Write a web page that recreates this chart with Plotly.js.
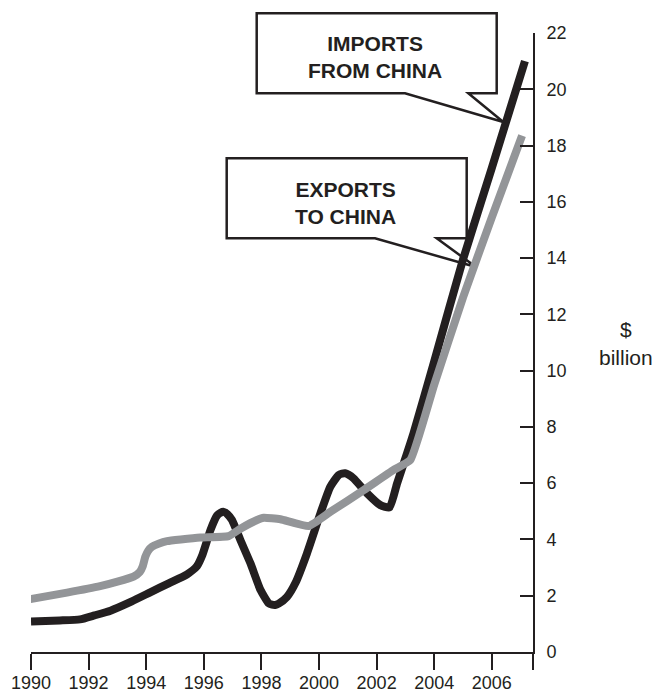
<!DOCTYPE html>
<html>
<head>
<meta charset="utf-8">
<script src="https://cdn.plot.ly/plotly-3.0.1.min.js"></script>
<style>html,body{margin:0;padding:0;background:#fff;}#chart{width:655px;height:692px;}</style>
</head>
<body>
<div id="chart"></div>
<script>
// Imports from China ($ billion)
var importYears = [1990.0,1991.0,1991.7,1992.2,1992.76,1993.5,1994.14,1994.8,1995.42,1995.76,1995.95,1996.23,1996.46,1996.58,1996.69,1996.82,1996.98,1997.27,1997.62,1997.97,1998.25,1998.37,1998.48,1998.6,1998.89,1999.18,1999.58,2000.05,2000.39,2000.68,2000.8,2000.91,2001.03,2001.2,2001.67,2002.13,2002.45,2002.71,2002.94,2003.28,2004.0,2005.0,2006.0,2007.15];
var importValues = [1.08,1.12,1.16,1.3,1.47,1.8,2.12,2.45,2.76,3.05,3.45,4.33,4.85,4.95,4.98,4.9,4.69,3.98,3.15,2.2,1.73,1.68,1.67,1.72,1.96,2.45,3.5,4.93,5.87,6.29,6.34,6.35,6.3,6.17,5.64,5.22,5.14,5.99,6.7,7.77,10.33,13.95,17.2,21.0];
// Exports to China ($ billion)
var exportYears = [1989.98,1991.25,1992.4,1993.0,1993.56,1993.78,1993.88,1993.97,1994.07,1994.2,1994.45,1994.72,1995.2,1995.88,1996.86,1997.3,1997.85,1998.08,1998.66,1999.64,2000.39,2001.55,2002.59,2003.17,2004.0,2005.0,2006.0,2007.05];
var exportValues = [1.88,2.11,2.34,2.5,2.68,2.85,3.05,3.39,3.6,3.74,3.86,3.94,4.0,4.07,4.12,4.4,4.69,4.77,4.72,4.48,4.98,5.75,6.47,6.82,9.5,12.6,15.45,18.35];
// Axis ticks
var xTickVals = [1990,1992,1994,1996,1998,2000,2002,2004,2006,2007.43];
var xTickText = ['1990','1992','1994','1996','1998','2000','2002','2004','2006',''];
var yTickVals = [0,2,4,6,8,10,12,14,16,18,20,22];
var labels = {imports: 'IMPORTS<br>FROM CHINA', exports: 'EXPORTS<br>TO CHINA', unitTop: '$', unitBottom: 'billion'};

var ink = '#231f20';
var grey = '#939598';
var font = 'Arial, "Liberation Sans", Helvetica, sans-serif';

var traces = [
  {x: importYears, y: importValues, type: 'scatter', mode: 'lines', line: {color: ink, width: 8, shape: 'spline', smoothing: 0.5}, hoverinfo: 'skip'},
  {x: exportYears, y: exportValues, type: 'scatter', mode: 'lines', line: {color: grey, width: 8, shape: 'spline', smoothing: 0.4}, hoverinfo: 'skip'}
];

// callout boxes in paper coordinates
function px(v){ return (v - 31) / 502; }
function py(v){ return (652 - v) / 619; }
function callout(l, t, r, b, nr, tipx, tipy, nl){
  return 'M' + px(l) + ',' + py(t) + ' L' + px(r) + ',' + py(t) + ' L' + px(r) + ',' + py(b) +
    ' L' + px(nr) + ',' + py(b) + ' L' + px(tipx) + ',' + py(tipy) + ' L' + px(nl) + ',' + py(b) +
    ' L' + px(l) + ',' + py(b) + ' Z';
}

var layout = {
  width: 655, height: 692, autosize: false,
  margin: {l: 31, r: 122, t: 33, b: 40, pad: 0},
  paper_bgcolor: '#ffffff', plot_bgcolor: 'rgba(0,0,0,0)',
  showlegend: false,
  font: {family: font, color: ink, size: 18},
  xaxis: {
    range: [1990, 2007.43], tickmode: 'array', tickvals: xTickVals, ticktext: xTickText,
    showgrid: false, zeroline: false, showline: true, linecolor: ink, linewidth: 2,
    ticks: 'outside', ticklen: 16, tickwidth: 2, tickcolor: ink,
    ticklabelstandoff: -3,
    tickfont: {family: font, size: 18, color: ink}, fixedrange: true
  },
  yaxis: {
    range: [0, 22], side: 'right', tickmode: 'array', tickvals: yTickVals,
    showgrid: false, zeroline: false, showline: true, linecolor: ink, linewidth: 2,
    ticks: 'inside', ticklen: 13, tickwidth: 2, tickcolor: ink,
    ticklabelstandoff: 8,
    tickfont: {family: font, size: 18, color: ink}, fixedrange: true
  },
  shapes: [
    {type: 'path', xref: 'paper', yref: 'paper', layer: 'below',
     path: callout(256.7, 13.3, 496.7, 93.3, 468.3, 503.3, 122, 405),
     fillcolor: '#ffffff', line: {color: ink, width: 2.5}},
    {type: 'path', xref: 'paper', yref: 'paper', layer: 'below',
     path: callout(226.7, 158.3, 466.7, 238.3, 436.7, 476, 267, 375),
     fillcolor: '#ffffff', line: {color: ink, width: 2.5}}
  ],
  annotations: [
    {xref: 'paper', yref: 'paper', x: px(375), y: py(57.3), text: labels.imports, showarrow: false,
     xanchor: 'center', yanchor: 'middle', align: 'center', font: {family: font, size: 21, color: ink, weight: 'bold'}},
    {xref: 'paper', yref: 'paper', x: px(345.5), y: py(203.4), text: labels.exports, showarrow: false,
     xanchor: 'center', yanchor: 'middle', align: 'center', font: {family: font, size: 21, color: ink, weight: 'bold'}},
    {xref: 'paper', yref: 'paper', x: px(625.5), y: py(329.7), text: labels.unitTop, showarrow: false,
     xanchor: 'center', yanchor: 'middle', font: {family: font, size: 21, color: ink}},
    {xref: 'paper', yref: 'paper', x: px(625.5), y: py(357), text: labels.unitBottom, showarrow: false,
     xanchor: 'center', yanchor: 'middle', font: {family: font, size: 21, color: ink}}
  ]
};

Plotly.newPlot('chart', traces, layout, {staticPlot: true, displayModeBar: false});
</script>
</body>
</html>
